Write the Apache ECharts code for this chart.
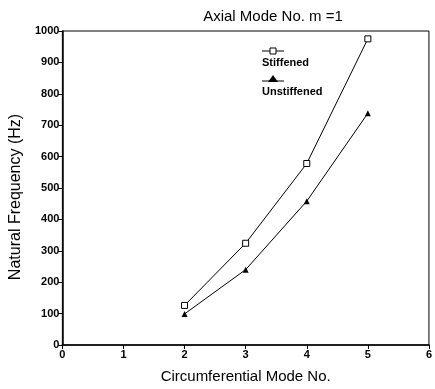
<!DOCTYPE html>
<html>
<head>
<meta charset="utf-8">
<script src="https://cdn.jsdelivr.net/npm/echarts@6/dist/echarts.min.js"></script>
<style>
  html, body { margin: 0; padding: 0; background: #fff; }
  #chart { width: 435px; height: 389px; }
</style>
</head>
<body>
<div id="chart"></div>
<script>
const modes = [2, 3, 4, 5];
const stiffened = [126, 324, 578, 975];
const unstiffened = [99, 240, 458, 738];
const yTicks = [0, 100, 200, 300, 400, 500, 600, 700, 800, 900, 1000];

const FONT = '"Liberation Sans", Arial, sans-serif';
const chart = echarts.init(document.getElementById('chart'), null, { renderer: 'canvas' });

chart.setOption({
  backgroundColor: '#fff',
  animation: false,
  title: {
    text: 'Axial Mode No. m =1',
    left: 268,
    top: 4,
    textAlign: 'center',
    textStyle: { fontFamily: FONT, fontSize: 15, fontWeight: 'normal', color: '#000' },
  },
  grid: {
    left: 62, right: 2, top: 31, bottom: 40,
    show: true, borderColor: '#000', borderWidth: 1, backgroundColor: 'transparent',
  },
  xAxis: {
    type: 'value',
    min: 0, max: 6, interval: 1,
    name: 'Circumferential Mode No.',
    nameLocation: 'middle',
    nameGap: 24,
    nameTextStyle: { fontFamily: FONT, fontSize: 15, color: '#000' },
    axisLine: { lineStyle: { color: '#000', width: 1.5 } },
    axisTick: { inside: false, length: 4, lineStyle: { color: '#000' } },
    axisLabel: { fontFamily: FONT, fontSize: 11, fontWeight: 'bold', color: '#000', margin: 4 },
    splitLine: { show: false },
  },
  yAxis: {
    type: 'value',
    min: 0, max: 1000, interval: 100,
    name: 'Natural Frequency (Hz)',
    nameLocation: 'middle',
    nameGap: 37,
    nameTextStyle: { fontFamily: FONT, fontSize: 16, color: '#000', padding: [0, 18, 0, 0] },
    axisLine: { show: true, lineStyle: { color: '#000', width: 1.5 } },
    axisTick: { show: true, inside: false, length: 4, lineStyle: { color: '#000' } },
    axisLabel: {
      fontFamily: FONT, fontSize: 11, fontWeight: 'bold', color: '#000', margin: 3,
      formatter: (v) => (yTicks.includes(v) ? String(v) : ''),
    },
    splitLine: { show: false },
  },
  graphic: [
    { type: 'line', shape: { x1: 262, y1: 51, x2: 284, y2: 51 }, style: { stroke: '#000', lineWidth: 1 } },
    { type: 'rect', shape: { x: 270, y: 48, width: 6, height: 6 }, style: { fill: '#fff', stroke: '#000', lineWidth: 1 } },
    { type: 'text', left: 262, top: 57, style: { text: 'Stiffened', font: 'bold 11px "Liberation Sans", Arial, sans-serif', fill: '#000' } },
    { type: 'line', shape: { x1: 262, y1: 81, x2: 284, y2: 81 }, style: { stroke: '#000', lineWidth: 1 } },
    { type: 'polygon', shape: { points: [[273, 75], [278, 82], [268, 82]] }, style: { fill: '#000' } },
    { type: 'text', left: 262, top: 86, style: { text: 'Unstiffened', font: 'bold 11px "Liberation Sans", Arial, sans-serif', fill: '#000' } },
  ],
  series: [
    {
      name: 'Stiffened',
      type: 'line',
      data: modes.map((m, i) => [m, stiffened[i]]),
      symbol: 'rect',
      symbolSize: 6,
      itemStyle: { color: '#fff', borderColor: '#000', borderWidth: 1 },
      lineStyle: { color: '#000', width: 1 },
    },
    {
      name: 'Unstiffened',
      type: 'line',
      data: modes.map((m, i) => [m, unstiffened[i]]),
      symbol: 'triangle',
      symbolSize: 6,
      itemStyle: { color: '#000', borderColor: '#000', borderWidth: 0 },
      lineStyle: { color: '#000', width: 1 },
    },
  ],
});
</script>
</body>
</html>
